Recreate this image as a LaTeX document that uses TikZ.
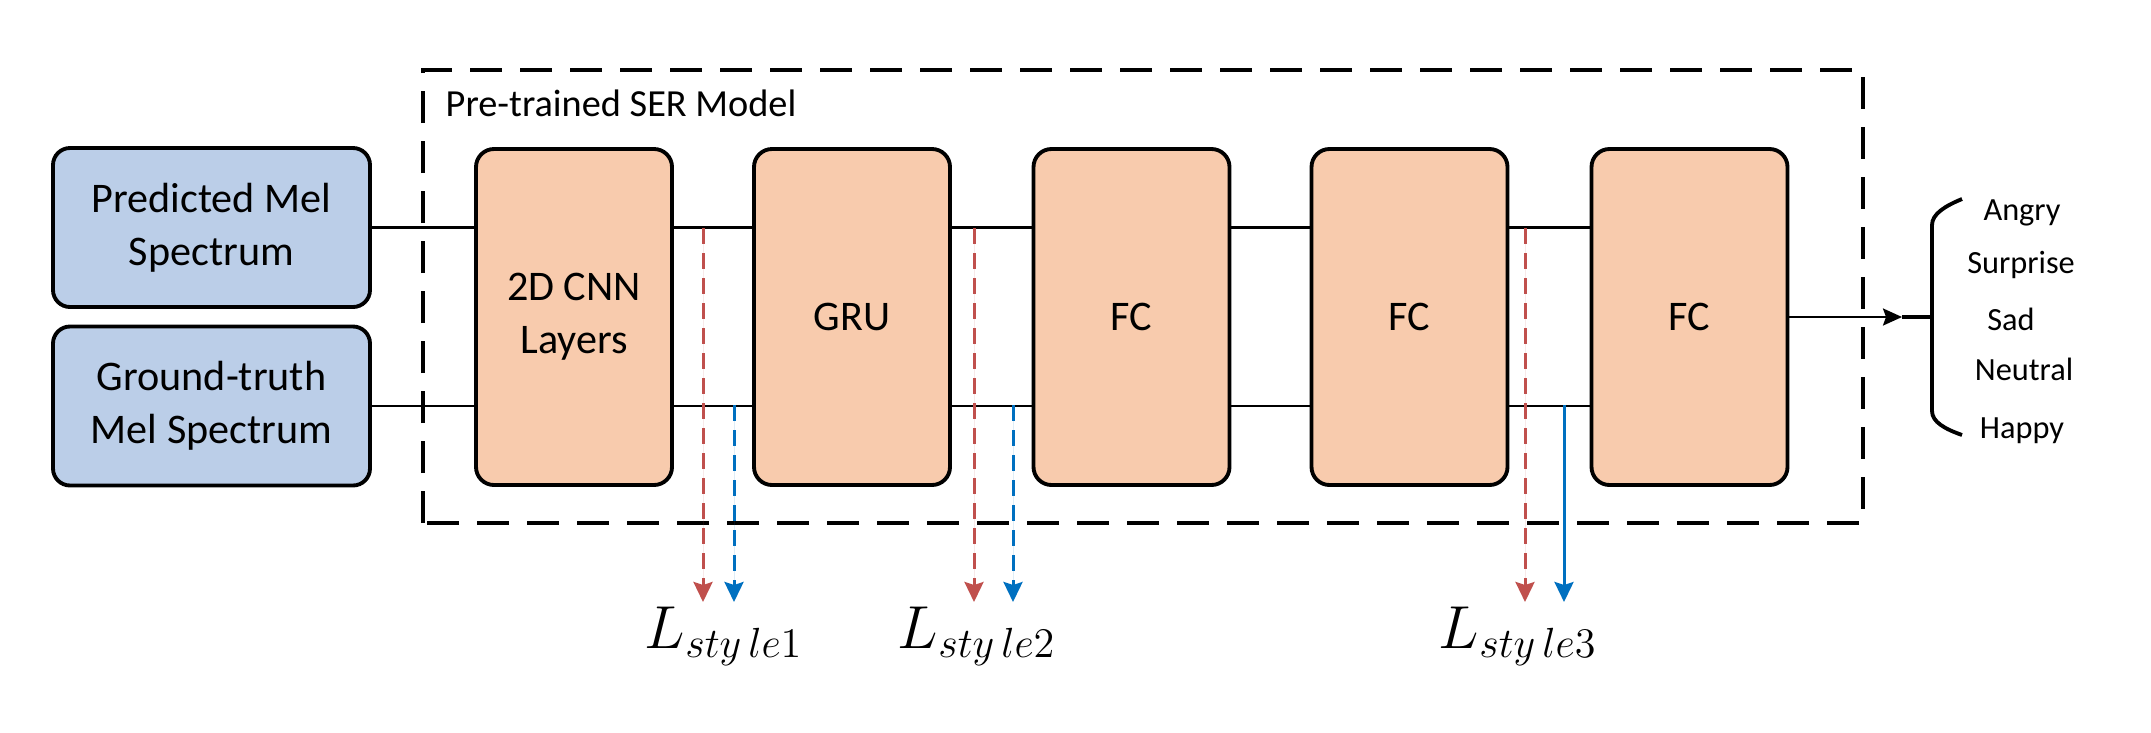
\documentclass[tikz,border=0pt]{standalone}
\usepackage{fontspec}
\setmainfont{Carlito}
\usetikzlibrary{arrows.meta}
\DeclareMathSizes{17}{17}{13}{10}
\definecolor{melblue}{RGB}{187,206,232}
\definecolor{layerorange}{RGB}{248,203,173}
\definecolor{stylered}{RGB}{192,80,77}
\definecolor{styleblue}{RGB}{0,112,192}
\begin{document}
\begin{tikzpicture}
    [
        input/.style={rectangle, rounded corners=1.7mm, draw=black, fill=melblue, line width=1.1pt, minimum height=15.9mm, minimum width=31.7mm, text centered, align=center, font=\fontsize{12}{15}\selectfont},
        layer/.style={rectangle, rounded corners=1.8mm, draw=black, fill=layerorange, line width=1.1pt, minimum height=33.6mm, minimum width=19.6mm, text centered, align=center, font=\fontsize{12}{15}\selectfont},
        link/.style={line width=0.7pt},
        serframe/.style={line width=0.95pt, dash pattern=on 3.2mm off 1.8mm},
        redarrow/.style={-{Stealth[length=2mm, width=1.9mm, inset=0.3mm]}, draw=stylered, fill=stylered, line width=0.85pt, dash pattern=on 1.6mm off 0.9mm},
        bluearrow/.style={-{Stealth[length=2mm, width=1.9mm, inset=0.3mm]}, draw=styleblue, fill=styleblue, line width=0.85pt},
        loss/.style={anchor=base, font=\fontsize{17}{20}\selectfont},
        emotion/.style={anchor=base, font=\fontsize{9.2}{11}\selectfont}
    ]
    \useasboundingbox (0,0) rectangle (21.51,7.32);

    % Frame
    \draw[serframe] (4.23,2.09) rectangle (18.63,6.62);
    \node[anchor=west, font=\fontsize{10.9}{13}\selectfont, inner sep=0pt] (sertitle) at (4.45,6.29) {Pre-trained SER Model};

    % Nodes
    \node[input] (pred) at (2.115,5.045) {Predicted Mel\\Spectrum};
    \node[input] (gt) at (2.115,3.26) {Ground-truth\\Mel Spectrum};
    \node[layer] (cnn) at (5.74,4.15) {2D CNN\\Layers};
    \node[layer] (gru) at (8.52,4.15) {GRU};
    \node[layer] (fc1) at (11.315,4.15) {FC};
    \node[layer] (fc2) at (14.095,4.15) {FC};
    \node[layer] (fc3) at (16.895,4.15) {FC};

    % Lines
    \draw[link] (pred.east) -- (pred.east -| cnn.west);
    \draw[link] (gt.east) -- (gt.east -| cnn.west);
    \draw[link] (cnn.east |- pred.east) -- (gru.west |- pred.east);
    \draw[link] (cnn.east |- gt.east) -- (gru.west |- gt.east);
    \draw[link] (gru.east |- pred.east) -- (fc1.west |- pred.east);
    \draw[link] (gru.east |- gt.east) -- (fc1.west |- gt.east);
    \draw[link] (fc1.east |- pred.east) -- (fc2.west |- pred.east);
    \draw[link] (fc1.east |- gt.east) -- (fc2.west |- gt.east);
    \draw[link] (fc2.east |- pred.east) -- (fc3.west |- pred.east);
    \draw[link] (fc2.east |- gt.east) -- (fc3.west |- gt.east);

    % Losses
    \coordinate (r1) at (7.03,5.04);
    \coordinate (r2) at (9.74,5.04);
    \coordinate (r3) at (15.25,5.04);
    \coordinate (b1) at (7.34,3.27);
    \coordinate (b2) at (10.13,3.27);
    \coordinate (b3) at (15.64,3.27);
    \coordinate (r1end) at (7.03,1.30);
    \coordinate (r2end) at (9.74,1.30);
    \coordinate (r3end) at (15.25,1.30);
    \coordinate (b1end) at (7.34,1.30);
    \coordinate (b2end) at (10.13,1.30);
    \coordinate (b3end) at (15.64,1.30);
    \draw[redarrow] (r1) -- (r1end);
    \draw[redarrow] (r2) -- (r2end);
    \draw[redarrow] (r3) -- (r3end);
    \draw[bluearrow, dash pattern=on 1.6mm off 0.9mm] (b1) -- (b1end);
    \draw[bluearrow, dash pattern=on 1.6mm off 0.9mm] (b2) -- (b2end);
    \draw[bluearrow] (b3) -- (b3end);
    \node[loss] (loss1) at (7.24,0.84) {$L_{sty\,le1}$};
    \node[loss] (loss2) at (9.77,0.84) {$L_{sty\,le2}$};
    \node[loss] (loss3) at (15.18,0.84) {$L_{sty\,le3}$};

    % Output
    \coordinate (tip) at (19.02,4.15);
    \coordinate (brace) at (19.32,4.15);
    \draw[link, -{Stealth[length=1.9mm, width=1.7mm, inset=0.3mm]}] (fc3.east) -- (tip);
    \draw[line width=1.2pt] (tip) -- (brace);
    \draw[line width=1.1pt] (19.62,5.33) .. controls (19.45,5.26) and (19.32,5.18) .. (19.32,5.07) -- (19.32,3.21) .. controls (19.32,3.10) and (19.45,3.03) .. (19.62,2.97);
    \node[emotion] (angry) at (20.22,5.12) {Angry};
    \node[emotion] (surprise) at (20.21,4.59) {Surprise};
    \node[emotion] (sad) at (20.11,4.02) {Sad};
    \node[emotion] (neutral) at (20.24,3.52) {Neutral};
    \node[emotion] (happy) at (20.22,2.94) {Happy};
\end{tikzpicture}
\end{document}
